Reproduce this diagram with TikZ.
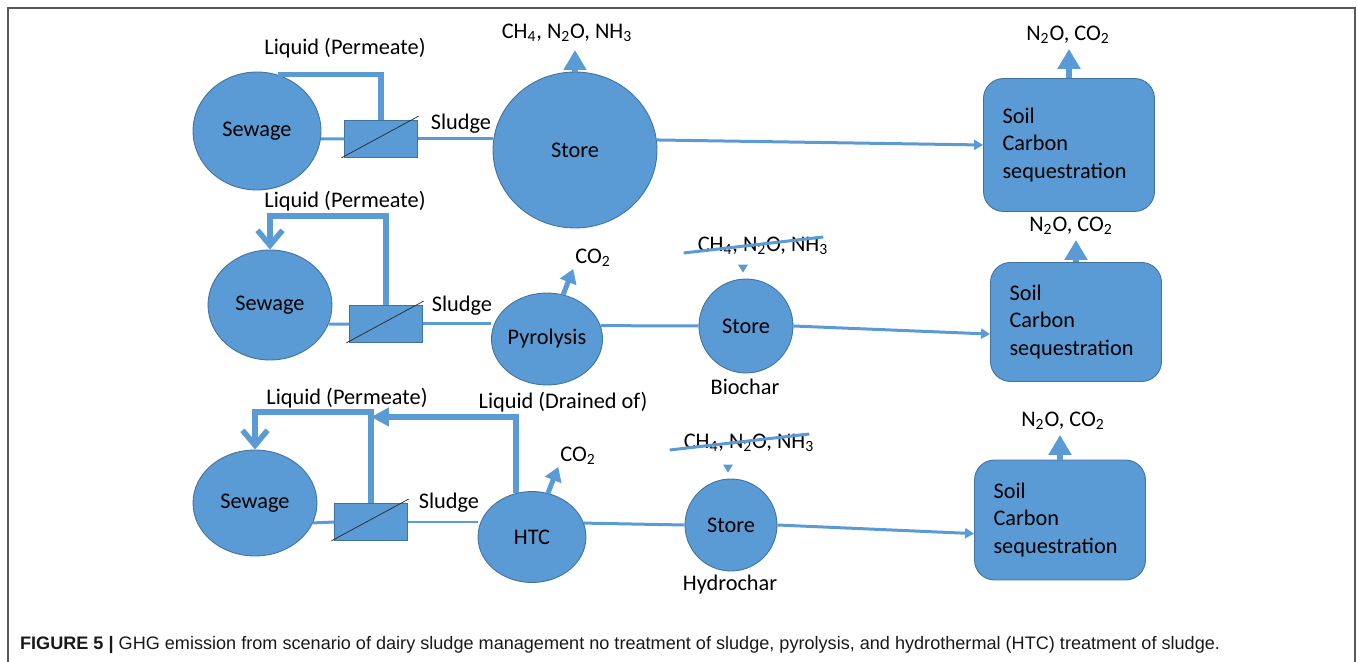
\documentclass[tikz,border=0pt]{standalone}
\usepackage{fontspec}
\setmainfont{Carlito}
\newfontfamily\capfont{Liberation Sans}
\usepackage{xcolor}
\usetikzlibrary{shapes.geometric,arrows.meta}
\definecolor{ofblue}{HTML}{5B9BD5}
\definecolor{ofedge}{HTML}{41719C}

\begin{document}
\begin{tikzpicture}[x=0.02cm,y=-0.02cm,
  every node/.style={font=\fontsize{12.7}{15.4}\selectfont,inner sep=1pt},
  blob/.style={ellipse,fill=ofblue,draw=ofedge,line width=0.5pt,inner sep=0pt},
  filt/.style={rectangle,fill=ofblue,draw=ofedge,line width=0.5pt,inner sep=0pt,minimum width=1.45cm,minimum height=0.74cm},
  soil/.style={rectangle,rounded corners=0.4cm,fill=ofblue,draw=ofedge,line width=0.5pt,align=left,text width=2.66cm,inner xsep=0.38cm,minimum width=3.42cm},
  pipe/.style={draw=ofblue,line width=0.06cm},
  feed/.style={pipe,-{Triangle[length=0.18cm,width=0.2cm]}},
  liq/.style={draw=ofblue,line width=0.11cm},
  back/.style={liq,-{Straight Barb[length=0.3cm,width=0.5cm]}},
  emit/.style={draw=ofblue,line width=0.12cm,-{Triangle[length=0.4cm,width=0.44cm]}},
  puff/.style={draw=ofblue,line width=0.1cm,-{Triangle[length=0.28cm,width=0.34cm]}},
  slash/.style={draw=black!85,line width=0.4pt}]
\useasboundingbox (0,0) rectangle (1357,662);
\draw[black!65,line width=0.04cm](8,662)--(8,8)--(1355,8)--(1355,662);

% row 1: no treatment
\node[blob,minimum width=2.56cm,minimum height=2.36cm] (sew1) at (257,131) {Sewage};
\node[filt] (mem1) at (381,139) {};
\node[blob,minimum width=3.28cm,minimum height=3.12cm] (store1) at (575,150) {Store};
\node[soil,minimum height=2.66cm] (soil1) at (1069,145) {Soil\\Carbon\\sequestration};
\node (perm1) at (345,48) {Liquid (Permeate)};
\node (sl1) at (461,124) {Sludge};
\node (gas1) at (567,33) {CH\textsubscript{4}, N\textsubscript{2}O, NH\textsubscript{3}};
\node (sg1) at (1068,35) {N\textsubscript{2}O, CO\textsubscript{2}};

\draw[pipe](sew1.-7)--(mem1.west);
\draw[liq](mem1.north)|-(sew1.70);
\draw[pipe](mem1.east)--(mem1.east -| store1.west);
\draw[feed](store1.7)--(soil1.west);
\draw[emit,shorten >=0.12cm](store1.north)--(store1.north |- gas1.south);
\draw[emit,shorten >=0.06cm](soil1.north)--(soil1.north |- sg1.south);

% row 2: pyrolysis
\node[blob,minimum width=2.48cm,minimum height=2.2cm] (sew2) at (270,305) {Sewage};
\node[filt] (mem2) at (386,324) {};
\node[blob,minimum width=2.2cm,minimum height=1.84cm] (pyr) at (547,339) {Pyrolysis};
\node[blob,minimum width=1.88cm,minimum height=1.88cm] (store2) at (746,326) {Store};
\node[soil,minimum height=2.38cm] (soil2) at (1076,322) {Soil\\Carbon\\sequestration};
\node (perm2) at (345,201) {Liquid (Permeate)};
\node (sl2) at (462,306) {Sludge};
\node (co2a) at (593,258) {CO\textsubscript{2}};
\node (ban2) at (763,246) {CH\textsubscript{4}, N\textsubscript{2}O, NH\textsubscript{3}};
\node (bio) at (745,387) {Biochar};
\node (sg2) at (1071,226) {N\textsubscript{2}O, CO\textsubscript{2}};

\draw[pipe](sew2.-18)--(mem2.west);
\draw[back](mem2.north)--++(0,-89)-|(sew2.north);
\draw[pipe](mem2.east)--(mem2.east -| pyr.west);
\draw[pipe](pyr.14)--(store2.west);
\draw[feed](store2.east)--(soil2.188);
\draw[puff](pyr.70)--(co2a.south west);
\draw[emit,shorten >=0.06cm](soil2.north)--(soil2.north |- sg2.south);

% row 3: HTC
\node[blob,minimum width=2.48cm,minimum height=2.12cm] (sew3) at (255,503) {Sewage};
\node[filt] (mem3) at (371,522) {};
\node[blob,minimum width=2.16cm,minimum height=1.82cm] (htc) at (532,537) {HTC};
\node[blob,minimum width=1.84cm,minimum height=1.84cm] (store3) at (731,525) {Store};
\node[soil,minimum height=2.4cm] (soil3) at (1060,520) {Soil\\Carbon\\sequestration};
\node (perm3) at (347,398) {Liquid (Permeate)};
\node (drain) at (563,402) {Liquid (Drained of)};
\node (sl3) at (449,503) {Sludge};
\node (co2b) at (578,456) {CO\textsubscript{2}};
\node (ban3) at (749,443) {CH\textsubscript{4}, N\textsubscript{2}O, NH\textsubscript{3}};
\node (hyd) at (730,585) {Hydrochar};
\node (sg3) at (1063,421) {N\textsubscript{2}O, CO\textsubscript{2}};

\draw[pipe](sew3.-19)--(mem3.west);
\draw[back](mem3.north)--++(0,-91)-|(sew3.north);
\draw[liq,-{Triangle[length=0.36cm,width=0.36cm]}](htc.110)|-(mem3.north |- 0,417);
\draw[pipe](mem3.east)--(mem3.east -| htc.west);
\draw[pipe](htc.15)--(store3.west);
\draw[feed](store3.east)--(soil3.189);
\draw[puff](htc.70)--(co2b.south west);
\draw[emit,shorten >=0.06cm](soil3.north)--(soil3.north |- sg3.south);

% filters, crossed-out gases
\foreach\m in{mem1,mem2,mem3}{\draw[slash]([shift={(-3,0)}]\m.south west)--([shift={(1,-4)}]\m.north east);};
\foreach\b in{ban2,ban3}{\draw[pipe]([shift={(-12,7)}]\b.west)--([shift={(-7,-9)}]\b.east);};
\foreach\s in{store2,store3}{\fill[ofblue](\s.north)++(-3,-6)--++(-5,-8)--++(10,0)--cycle;};

\node[anchor=west,font=\capfont\fontsize{10.3}{12}\selectfont,text=black!90] (cap) at (18,645)
  {\textbf{FIGURE 5 |} GHG emission from scenario of dairy sludge management no treatment of sludge, pyrolysis, and hydrothermal (HTC) treatment of sludge.};
\end{tikzpicture}
\end{document}
